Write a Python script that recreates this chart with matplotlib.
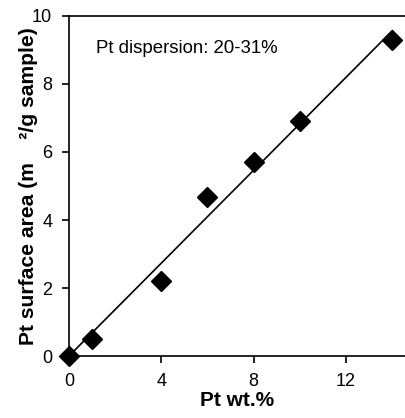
import matplotlib.pyplot as plt
import numpy as np

plt.rcParams['font.family'] = ['Liberation Sans', 'DejaVu Sans']

# Pt loading vs. Pt surface area
pt_wt = np.array([0, 1, 4, 6, 8, 10, 14])
pt_area = np.array([0, 0.5, 2.2, 4.67, 5.7, 6.9, 9.3])

# linear fit through the origin
slope = np.sum(pt_wt * pt_area) / np.sum(pt_wt ** 2)
fit_x = np.array([0, 14])
fit_y = slope * fit_x

fig = plt.figure(figsize=(4.05, 4.18), dpi=100)
ax = fig.add_axes([0.170, 0.148, 0.830, 0.814])

ax.plot(fit_x, fit_y, color='black', linewidth=1.2, zorder=2)
ax.plot(pt_wt, pt_area, linestyle='none', marker='D', markersize=10,
        color='black', zorder=3, clip_on=False)

ax.set_xlim(0, 14.55)
ax.set_ylim(0, 10)
ax.set_xticks([0, 4, 8, 12])
ax.set_yticks([0, 2, 4, 6, 8, 10])
ax.spines['right'].set_visible(False)
for s in ['top', 'left', 'bottom']:
    ax.spines[s].set_linewidth(1.2)
ax.tick_params(direction='out', length=5, width=1.2, labelsize=13, pad=7)

ax.set_xlabel('Pt wt.%', fontsize=15, fontweight='bold', labelpad=1)
ax.set_ylabel('Pt surface area (m    ²/g sample)', fontsize=15.2,
              fontweight='bold', labelpad=-4)
ax.text(1.17, 9.05, 'Pt dispersion: 20-31%', fontsize=13.4, va='center')

fig.savefig('out.png', dpi=100)
